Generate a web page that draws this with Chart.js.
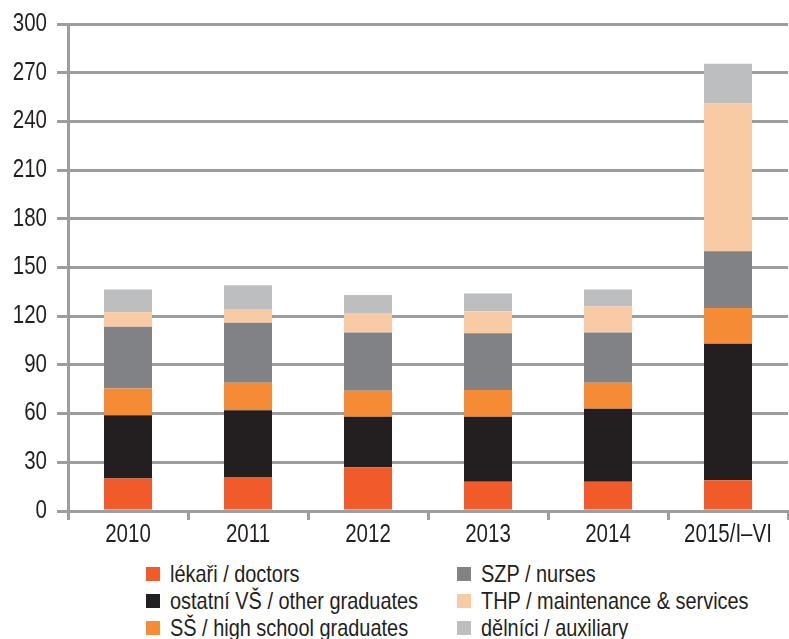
<!doctype html>
<html>
<head>
<meta charset="utf-8">
<title>Stacked bars</title>
<script src="https://cdn.jsdelivr.net/npm/chart.js@4/dist/chart.umd.min.js"></script>
<style>
  body { margin: 0; background: #fff; }
  #wrap { position: relative; width: 789px; height: 555px; }
  #legend { position: relative; width: 789px; height: 84px; font-family: 'Liberation Sans', Arial, sans-serif; font-size: 24px; color: #231f20; }
  .box { position: absolute; width: 14px; height: 14px; }
  .txt { position: absolute; white-space: nowrap; line-height: 1; transform: scaleX(0.83); transform-origin: left center; }
</style>
</head>
<body>
<div id="wrap"><canvas id="myChart"></canvas></div>
<div id="legend"></div>
<script>
  const years = ['2010', '2011', '2012', '2013', '2014', '2015/I–VI'];
  const yTicks = [0, 30, 60, 90, 120, 150, 180, 210, 240, 270, 300];

  const doctors = [20, 21, 27, 18, 18, 19];
  const otherGrad = [39, 41, 31, 40, 45, 84];
  const highSchool = [16.5, 17, 16, 16.5, 16, 22];
  const nurses = [38, 37, 36, 35, 31, 35];
  const maintenance = [9, 8.5, 12, 13.5, 16, 91];
  const auxiliary = [14, 14.5, 11, 11, 10.5, 24.5];

  const series = [
    { label: 'lékaři / doctors', data: doctors, color: '#f15a29' },
    { label: 'ostatní VŠ / other graduates', data: otherGrad, color: '#231f20' },
    { label: 'SŠ / high school graduates', data: highSchool, color: '#f68b36' },
    { label: 'SZP / nurses', data: nurses, color: '#808285' },
    { label: 'THP / maintenance & services', data: maintenance, color: '#f8cba5' },
    { label: 'dělníci / auxiliary', data: auxiliary, color: '#bcbec0' },
  ];

  const gridCol = '#9d9d9d';
  const squeeze = 0.82; // the original uses a condensed face

  // tick labels drawn condensed, at the positions the scales give
  const narrowTicks = {
    id: 'narrowTicks',
    afterDraw(chart) {
      const c = chart.ctx;
      const put = (text, x, y, align) => {
        c.save();
        c.translate(x, y);
        c.scale(squeeze, 1);
        c.font = "25px 'Liberation Sans', Arial, sans-serif";
        c.fillStyle = '#231f20';
        c.textAlign = align;
        c.textBaseline = 'middle';
        c.fillText(text, 0, 0);
        c.restore();
      };
      const xs = chart.scales.x, ys = chart.scales.y;
      xs.ticks.forEach((t, i) => put(xs.getLabelForValue(t.value), xs.getPixelForTick(i), 535, 'center'));
      ys.ticks.forEach((t, i) => put(String(t.value), 47, ys.getPixelForTick(i), 'right'));
    }
  };

  const ctx = document.getElementById('myChart').getContext('2d');
  new Chart(ctx, {
    type: 'bar',
    data: {
      labels: years,
      datasets: series.map(s => ({
        label: s.label,
        data: s.data,
        backgroundColor: s.color,
        borderWidth: 0,
        barPercentage: 0.4,
        categoryPercentage: 1.0,
      }))
    },
    plugins: [narrowTicks],
    options: {
      responsive: true,
      maintainAspectRatio: false,
      animation: false,
      layout: { padding: { top: 24, right: 1, left: 0, bottom: 0 } },
      plugins: { legend: { display: false }, tooltip: { enabled: false } },
      scales: {
        x: {
          stacked: true,
          afterFit: (scale) => { scale.height = 44; },
          grid: { offset: true, drawOnChartArea: false, color: gridCol, lineWidth: 3, tickLength: 9 },
          border: { color: gridCol, width: 3 },
          ticks: { display: false }
        },
        y: {
          stacked: true,
          min: 0,
          max: 300,
          afterBuildTicks: (scale) => { scale.ticks = yTicks.map(v => ({ value: v })); },
          afterFit: (scale) => { scale.width = 68; },
          grid: { color: gridCol, lineWidth: 3, tickLength: 11 },
          border: { color: gridCol, width: 3 },
          ticks: { display: false }
        }
      }
    }
  });

  // legend: two columns of three
  const legend = document.getElementById('legend');
  series.forEach((s, i) => {
    const col = Math.floor(i / 3), row = i % 3;
    const cy = 19 + row * 27;
    const bx = col === 0 ? 146 : 457;
    const box = document.createElement('div');
    box.className = 'box';
    box.style.left = bx + 'px';
    box.style.top = (cy - 7) + 'px';
    box.style.background = s.color;
    const txt = document.createElement('div');
    txt.className = 'txt';
    txt.style.left = (bx + 24) + 'px';
    txt.style.top = (cy - 12) + 'px';
    txt.textContent = s.label;
    legend.appendChild(box);
    legend.appendChild(txt);
  });
</script>
</body>
</html>
